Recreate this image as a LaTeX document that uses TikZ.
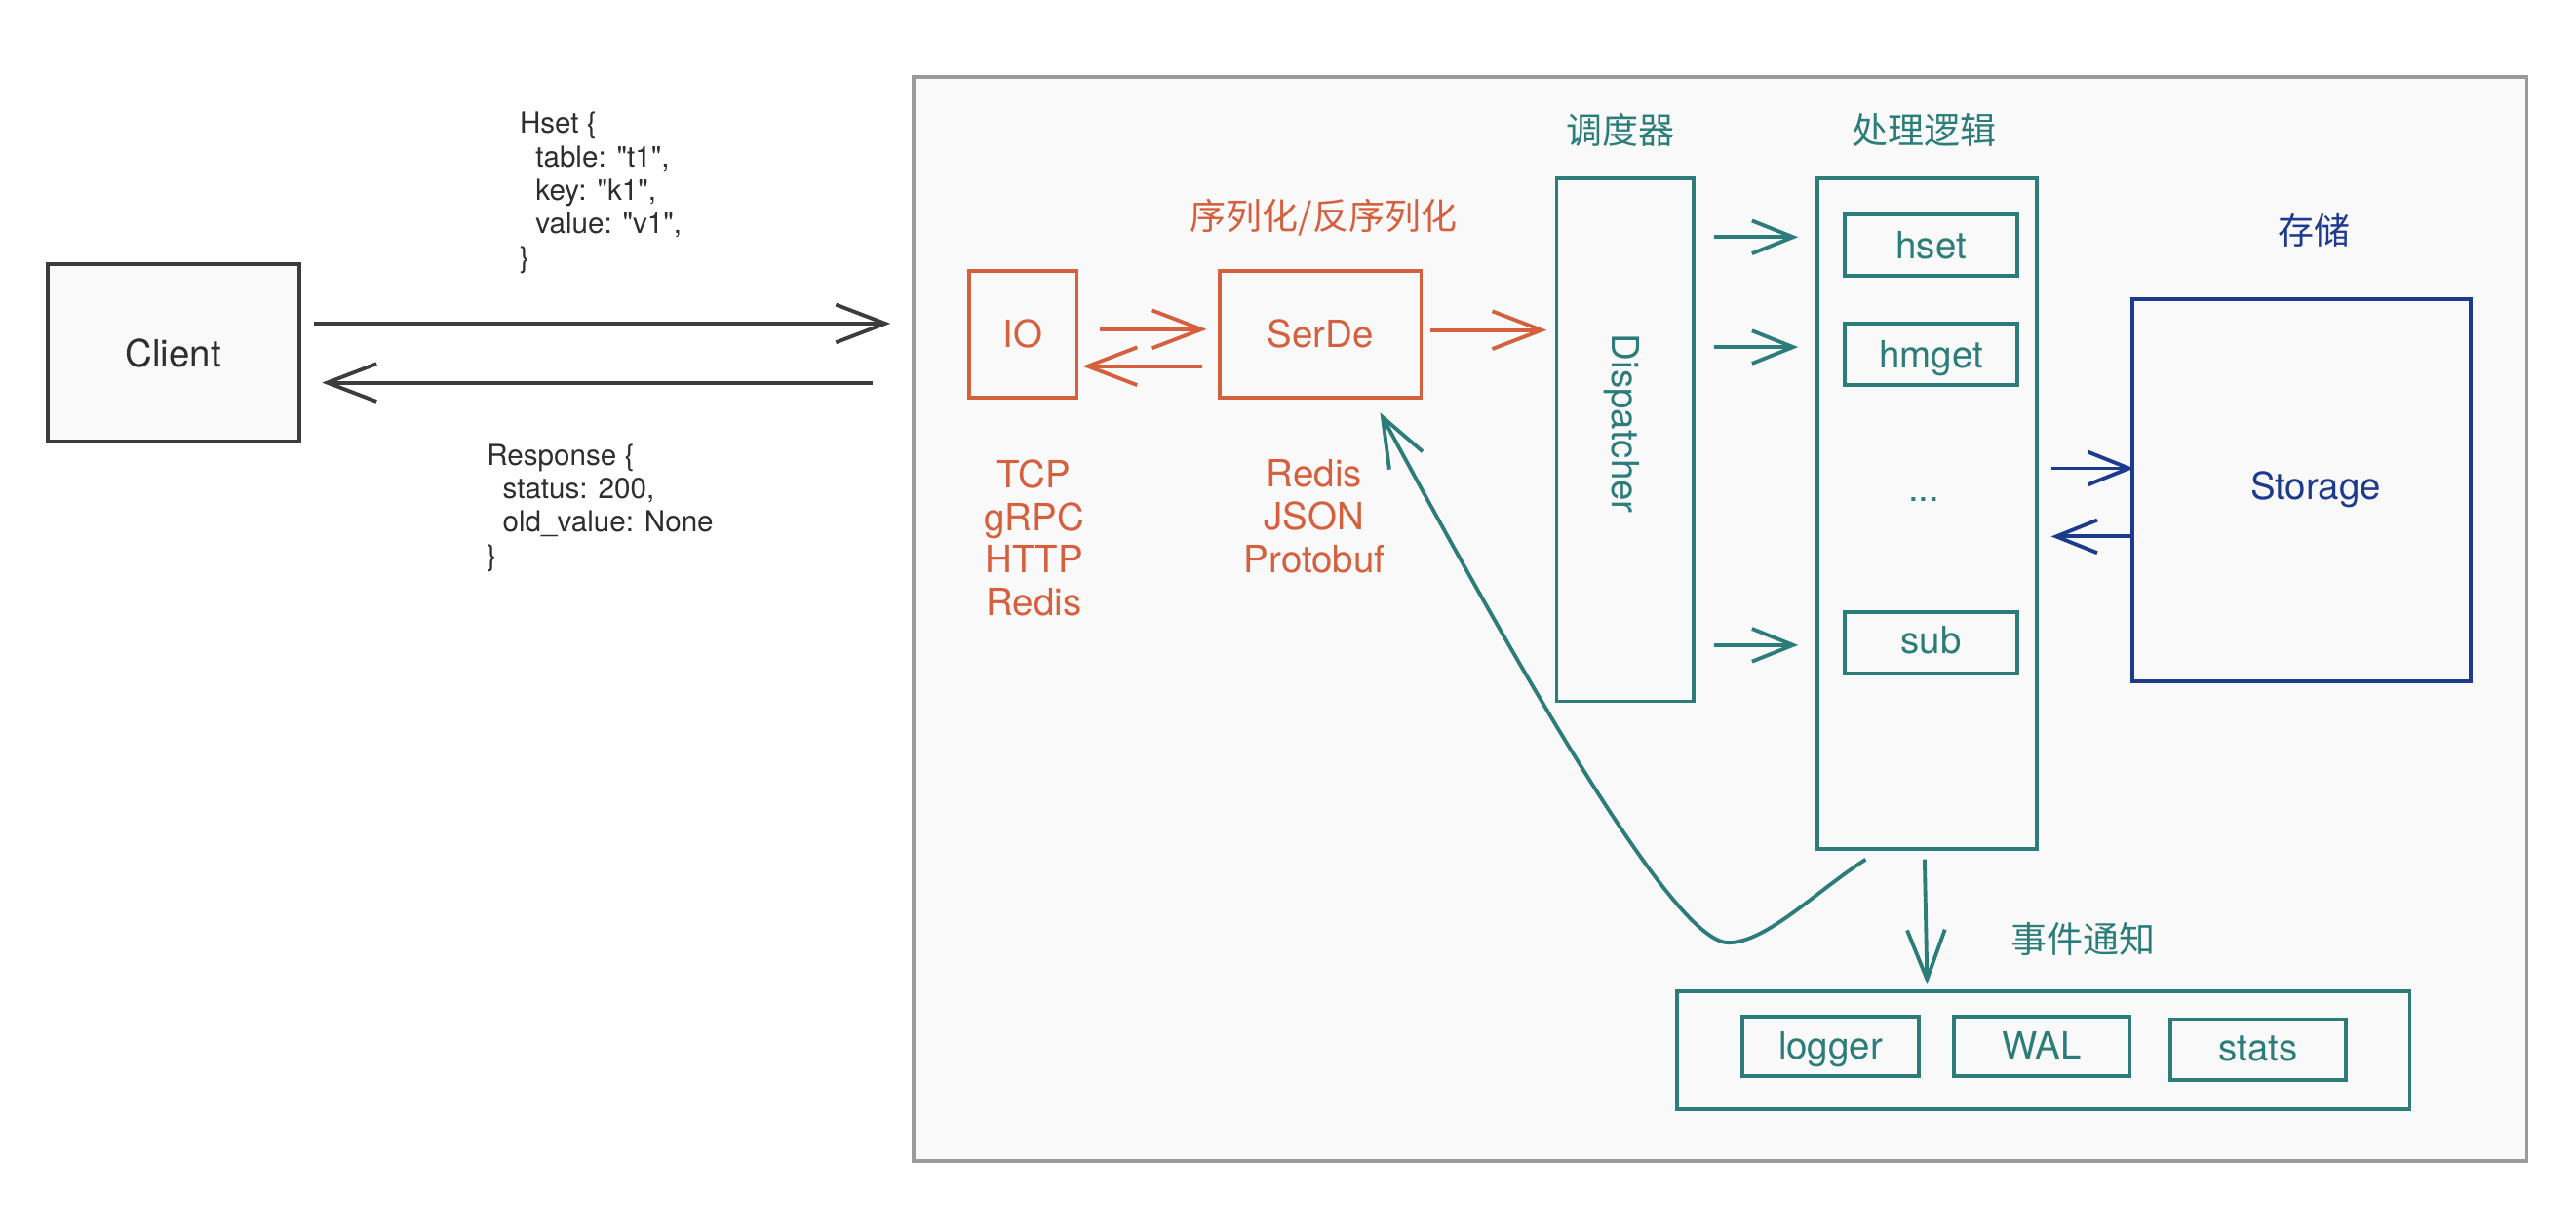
\documentclass[tikz,border=0pt]{standalone}
\usepackage{fontspec}
\setmainfont{TeX Gyre Heros}
\newfontfamily\codef{TeX Gyre Heros}
\newfontfamily\cjk{Noto Sans CJK SC}
\usetikzlibrary{arrows.meta,calc,fit}
\definecolor{cOr}{HTML}{D4603E}
\definecolor{cTeal}{HTML}{2C7D7A}
\definecolor{cBlue}{HTML}{1D3B8E}
\definecolor{cTxt}{HTML}{2E2E2E}
\definecolor{cDark}{HTML}{3C3C3C}
\definecolor{cFill}{HTML}{FAF9FA}
\definecolor{cFrame}{HTML}{9A9A9A}
\tikzset{
  box/.style={draw, line width=1.3pt, inner sep=0pt, outer sep=0pt},
  lbl/.style={font=\fontsize{13}{15}\selectfont, text height=9.4pt, text depth=0pt, inner sep=0pt},
  cjkl/.style={font=\cjk\fontsize{12.5}{14}\selectfont, inner sep=0pt},
  arr/.style={line width=1.3pt, -{Straight Barb[length=0.6cm,width=0.46cm]}},
  arrs/.style={line width=1.3pt, -{Straight Barb[length=0.5cm,width=0.4cm]}},
  codetxt/.style={anchor=north west, inner sep=0pt, align=left, font=\codef\fontsize{10}{11.6}\selectfont, text=cTxt},
  proto/.style={anchor=north, inner sep=0pt, align=center, font=\fontsize{13}{14.8}\selectfont, text=cOr}
}
\begin{document}
\begin{tikzpicture}[x=0.02cm, y=-0.02cm]
\fill[white] (0,0) rectangle (1568,750);
\useasboundingbox (0,0) rectangle (1568,750);

% container
\node[box, draw=cFrame, fill=cFill, line width=1.2pt, fit={(556,47) (1538,707)}] (cont) {};

% client
\node[box, draw=cDark, fill=cFill, fit={(29,161) (182,269)}] (client) {};
\node[lbl, text=cTxt] (clientlbl) at (client.center) {Client};

\node[codetxt] (req) at (316,68) {Hset \{\\\hspace*{5.5pt}table: "t1",\\\hspace*{5.5pt}key: "k1",\\\hspace*{5.5pt}value: "v1",\\\}};
\node[codetxt] (resp) at (296,270) {Response \{\\\hspace*{5.5pt}status: 200,\\\hspace*{5.5pt}old\_value: None\\\}};

% IO / SerDe
\node[box, draw=cOr, fit={(590,165) (655.5,242)}] (io) {};
\node[lbl, text=cOr] (iolbl) at (io.center) {IO};
\node[box, draw=cOr, fit={(742.5,165) (865,242)}] (serde) {};
\node[lbl, text=cOr] (serdelbl) at (serde.center) {SerDe};
\node[cjkl, text=cOr] (serdetitle) at (805.6,132.5) {序列化/反序列化};
\node[proto] (ioproto) at (629.4,279.5) {TCP\\gRPC\\HTTP\\Redis};
\node[proto] (serdeproto) at (800,279.5) {Redis\\JSON\\Protobuf};

% Dispatcher
\node[box, draw=cTeal, fit={(947.5,108.5) (1031,427)}] (disp) {};
\node[lbl, rotate=-90, text=cTeal] (displbl) at (989.5,258) {Dispatcher};
\node[cjkl, text=cTeal] (disptitle) at (986.2,79) {调度器};

% processing
\node[box, draw=cTeal, fit={(1106,108.5) (1240,516.7)}] (proc) {};
\node[cjkl, text=cTeal] (proctitle) at (1171.5,79) {处理逻辑};
\node[box, draw=cTeal, fit={(1123,130.7) (1228,168.1)}] (hset) {};
\node[lbl, text=cTeal] (hsetlbl) at (hset.center) {hset};
\node[box, draw=cTeal, fit={(1123,197.2) (1228,234.5)}] (hmget) {};
\node[lbl, text=cTeal] (hmgetlbl) at (hmget.center) {hmget};
\node[lbl, text=cTeal] (dots) at (1171,297) {...};
\node[box, draw=cTeal, fit={(1123,372.6) (1228,410)}] (sub) {};
\node[lbl, text=cTeal] (sublbl) at ($(sub.center)+(0,-1.5)$) {sub};

% storage
\node[box, draw=cBlue, fit={(1298,182.4) (1503.8,414.9)}] (stor) {};
\node[lbl, text=cBlue] (storlbl) at (1409.6,296) {Storage};
\node[cjkl, text=cBlue] (stortitle) at (1408.8,140.5) {存储};

% events
\node[box, draw=cTeal, fit={(1021,603.4) (1466.8,675.6)}] (event) {};
\node[cjkl, text=cTeal] (eventtitle) at (1268,571.7) {事件通知};
\node[box, draw=cTeal, fit={(1060.7,619.2) (1167.8,655.4)}] (logger) {};
\node[lbl, text=cTeal] (loggerlbl) at ($(logger.center)+(0,-1)$) {logger};
\node[box, draw=cTeal, fit={(1189.3,619.2) (1296.5,655.4)}] (wal) {};
\node[lbl, text=cTeal] (wallbl) at ($(wal.center)+(0,-0.7)$) {WAL};
\node[box, draw=cTeal, fit={(1321,621) (1428,657.5)}] (stats) {};
\node[lbl, text=cTeal] (statslbl) at ($(stats.center)+(0,-1.5)$) {stats};

% client arrows
\draw[arr, draw=cDark] ($(client.east)+(9,-18)$) -- ($(cont.west |- client.east)+(-14,-18)$);
\draw[arr, draw=cDark] ($(cont.west |- client.east)+(-25,18)$) -- ($(client.east)+(14,18)$);

% orange arrows
\draw[arr, draw=cOr] ($(io.east)+(14,-3)$) -- ($(serde.west)+(-8,-3)$);
\draw[arr, draw=cOr] ($(serde.west)+(-11,19.5)$) -- ($(io.east)+(3.5,19.5)$);
\draw[arr, draw=cOr] ($(serde.east)+(5.5,-2.5)$) -- ($(disp.west |- serde.east)+(-6,-2.5)$);

% dispatcher to handlers
\draw[arrs, draw=cTeal] ($(disp.east |- hset.west)+(12.5,-5)$) -- ($(proc.west |- hset.west)+(-11.5,-5)$);
\draw[arrs, draw=cTeal] ($(disp.east |- hmget.west)+(12.5,-4.5)$) -- ($(proc.west |- hmget.west)+(-11.5,-4.5)$);
\draw[arrs, draw=cTeal] ($(disp.east |- sub.west)+(12.5,1.5)$) -- ($(proc.west |- sub.west)+(-11.5,1.5)$);

% storage arrows
\draw[arrs, draw=cBlue] ($(proc.east |- stor.west)+(8.5,-13.5)$) -- ($(stor.west)+(1,-13.5)$);
\draw[arrs, draw=cBlue] ($(stor.west)+(0,28)$) -- ($(proc.east |- stor.west)+(8.5,28)$);

% events
\draw[arr, draw=cTeal] ($(proc.south)+(-1.5,6.5)$) -- ($(event.north -| proc.south)+(0,-4)$);
\draw[arr, draw=cTeal] ($(proc.south)+(-37.4,6.6)$) .. controls (1105,543) and (1075,574) .. (1052,574) .. controls (1025,574) and (957,468) .. ($(serde.south)+(36.3,9.2)$);
\end{tikzpicture}
\end{document}
